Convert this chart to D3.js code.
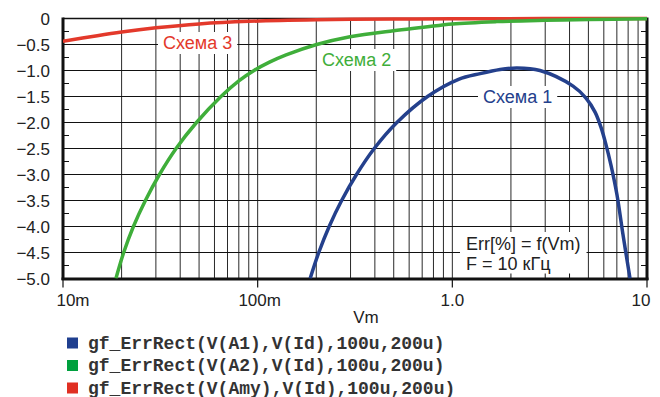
<!DOCTYPE html>
<html>
<head>
<meta charset="utf-8">
<script src="https://cdn.jsdelivr.net/npm/d3@7"></script>
<style>
  body { margin: 0; background: #fff; }
  svg { display: block; font-family: "Liberation Sans", Arial, sans-serif; }
</style>
</head>
<body>
<svg id="chart" width="660" height="397"></svg>
<script>
// Data (Vm in volts, error in %)
const vm1 = [0.186, 0.206, 0.233, 0.270, 0.322, 0.397, 0.519, 0.746, 1.076, 1.39, 1.76, 2.15, 2.82, 4.17, 4.86, 5.41, 5.80, 6.16, 6.53, 7.01, 7.53, 8.18];
const err1 = [-5.0, -4.5, -4.0, -3.5, -3.0, -2.5, -2.0, -1.5, -1.17, -1.06, -0.98, -0.95, -1.0, -1.3, -1.53, -1.8, -2.09, -2.43, -2.82, -3.39, -4.16, -5.0];

const vm2 = [0.0187, 0.0205, 0.0230, 0.0265, 0.0313, 0.0381, 0.0485, 0.0648, 0.080, 0.0958, 0.115, 0.14, 0.201, 0.298, 0.498, 0.71, 1.0, 1.69, 3.0, 5.0, 10];
const err2 = [-5.0, -4.5, -4.0, -3.5, -3.0, -2.5, -2.0, -1.5, -1.2, -1.0, -0.84, -0.7, -0.5, -0.35, -0.235, -0.17, -0.105, -0.06, -0.035, -0.02, -0.005];

const vm3 = [0.01, 0.015, 0.02, 0.03, 0.05, 0.09, 0.2, 0.5, 1, 10];
const err3 = [-0.44, -0.33, -0.26, -0.18, -0.105, -0.055, -0.025, -0.01, -0.005, 0];

const xTicks = [0.01, 0.1, 1, 10];
const xTickLabels = ['10m', '100m', '1.0', '10'];
const yTicks = [0, -0.5, -1, -1.5, -2, -2.5, -3, -3.5, -4, -4.5, -5];
const yTickLabels = ['0', '\u22120.5', '\u22121.0', '\u22121.5', '\u22122.0', '\u22122.5', '\u22123.0', '\u22123.5', '\u22124.0', '\u22124.5', '\u22125.0'];

const curveNames = ['Схема 1', 'Схема 2', 'Схема 3'];
const legendNames = [
  'gf_ErrRect(V(A1),V(Id),100u,200u)',
  'gf_ErrRect(V(A2),V(Id),100u,200u)',
  'gf_ErrRect(V(Amy),V(Id),100u,200u)'
];
const curveColors = ['#24408c', '#3fae3a', '#e3392b'];
const legendColors = ['#1f3f8f', '#00a03e', '#e02f22'];

const svg = d3.select('#chart');
const pLeft = 63, pRight = 647, pTop = 18.5, pBottom = 278.5;

const x = d3.scaleLog().domain([0.01, 10]).range([pLeft, pRight]);
const y = d3.scaleLinear().domain([-5, 0]).range([pBottom, pTop]);

svg.append('defs').append('clipPath').attr('id', 'plot')
  .append('rect').attr('x', pLeft).attr('y', pTop - 3).attr('width', pRight - pLeft).attr('height', pBottom - pTop + 3);

const grid = svg.append('g');

// vertical grid: every 1..9 of each decade
const minorX = [];
[0.01, 0.1, 1].forEach(d => { for (let k = 2; k <= 10; k++) minorX.push(d * k); });
const vGrid = minorX.filter(v => v < 9.99);
grid.selectAll('line.vx').data(vGrid).enter().append('line')
  .attr('x1', d => x(d)).attr('x2', d => x(d))
  .attr('y1', pTop).attr('y2', pBottom)
  .attr('stroke', '#2a2a2a').attr('stroke-width', 1);

// horizontal grid
grid.selectAll('line.hy').data(yTicks.filter(v => v < 0 && v > -5)).enter().append('line')
  .attr('x1', pLeft).attr('x2', pRight)
  .attr('y1', d => y(d)).attr('y2', d => y(d))
  .attr('stroke', '#111').attr('stroke-width', 1);

// minor ticks on y (left and right, inward)
const minorY = d3.range(-4.75, 0, 0.5);
grid.selectAll('line.myl').data(minorY).enter().append('line')
  .attr('x1', pLeft).attr('x2', pLeft + 6).attr('y1', d => y(d)).attr('y2', d => y(d))
  .attr('stroke', '#111');
grid.selectAll('line.myr').data(minorY).enter().append('line')
  .attr('x1', pRight - 6).attr('x2', pRight).attr('y1', d => y(d)).attr('y2', d => y(d))
  .attr('stroke', '#111');

// white box behind the annotation
const note = svg.append('g');
const noteText = note.append('text').attr('x', 466).attr('y', 250)
  .attr('font-size', 18).attr('fill', '#222');
noteText.append('tspan').attr('x', 466).text('Err[%] = f(Vm)');
noteText.append('tspan').attr('x', 466).attr('dy', 20).text('F = 10 кГц');
const nb = noteText.node().getBBox();
note.insert('rect', 'text').attr('x', nb.x - 6).attr('y', nb.y - 2)
  .attr('width', nb.width + 12).attr('height', pBottom - nb.y + 2).attr('fill', '#fff');
// minor ticks inside the box stay visible
note.selectAll('line').data(vGrid.filter(v => x(v) > nb.x - 6 && x(v) < nb.x + nb.width + 6)).enter().append('line')
  .attr('x1', d => x(d)).attr('x2', d => x(d)).attr('y1', pBottom).attr('y2', pBottom - 5)
  .attr('stroke', '#111');

// curve labels with white backing
const labelPos = [[483, 103], [322, 66], [163, 49]];
const labels = svg.append('g');
curveNames.forEach((name, i) => {
  const t = labels.append('text').attr('x', labelPos[i][0]).attr('y', labelPos[i][1])
    .attr('font-size', 18).attr('fill', curveColors[i]).text(name);
  const b = t.node().getBBox();
  labels.insert('rect', 'text').attr('x', b.x - 5).attr('y', b.y - 1)
    .attr('width', b.width + 10).attr('height', b.height + 2).attr('fill', '#fff');
});

// axes frame
svg.append('line').attr('x1', pLeft).attr('x2', pRight).attr('y1', pTop).attr('y2', pTop)
  .attr('stroke', '#111').attr('stroke-width', 1.5);
svg.append('line').attr('x1', pLeft).attr('x2', pLeft).attr('y1', pTop - 1).attr('y2', pBottom + 1.5)
  .attr('stroke', '#111').attr('stroke-width', 3);
svg.append('line').attr('x1', pRight).attr('x2', pRight).attr('y1', pTop - 1).attr('y2', pBottom + 1.5)
  .attr('stroke', '#111').attr('stroke-width', 3);
svg.append('line').attr('x1', pLeft - 1.5).attr('x2', pRight + 1.5).attr('y1', pBottom + 0.5).attr('y2', pBottom + 0.5)
  .attr('stroke', '#111').attr('stroke-width', 3);

// curves
const line = d3.line().x(d => x(d[0])).y(d => y(d[1])).curve(d3.curveCatmullRom.alpha(0.5));
const series = [[vm1, err1], [vm2, err2], [vm3, err3]];
const curves = svg.append('g').attr('clip-path', 'url(#plot)');
// draw in order red, green, blue
[2, 1, 0].forEach(i => {
  const pts = series[i][0].map((v, j) => [v, series[i][1][j]]);
  curves.append('path').datum(pts).attr('d', line)
    .attr('fill', 'none').attr('stroke', curveColors[i]).attr('stroke-width', 3.5);
});

// x axis ticks and labels
const xa = svg.append('g');
xa.selectAll('line').data(xTicks).enter().append('line')
  .attr('x1', d => x(d)).attr('x2', d => x(d)).attr('y1', pBottom + 1).attr('y2', pBottom + 9)
  .attr('stroke', '#111').attr('stroke-width', 1.2);
const xOffset = [10, 2, 0, -6];
xa.selectAll('text').data(xTicks).enter().append('text')
  .attr('x', (d, i) => x(d) + xOffset[i]).attr('y', 306)
  .attr('text-anchor', 'middle').attr('font-size', 17).attr('fill', '#222')
  .text((d, i) => xTickLabels[i]);
svg.append('text').attr('x', 366).attr('y', 323).attr('text-anchor', 'middle')
  .attr('font-size', 17).attr('fill', '#222').text('Vm');

// y axis labels
const ya = svg.append('g');
ya.selectAll('text').data(yTicks).enter().append('text')
  .attr('x', 50).attr('y', d => y(d) + 6)
  .attr('text-anchor', 'end').attr('font-size', 17).attr('fill', '#222')
  .text((d, i) => yTickLabels[i]);

// legend
const lg = svg.append('g');
legendNames.forEach((name, i) => {
  const cy = 343 + i * 22.5;
  lg.append('rect').attr('x', 67).attr('y', cy - 5.5).attr('width', 11).attr('height', 11)
    .attr('fill', legendColors[i]);
  lg.append('text').attr('x', 88).attr('y', cy + 5.5)
    .attr('font-family', '"Liberation Mono", "Courier New", monospace')
    .attr('font-weight', 'bold').attr('font-size', 18).attr('fill', '#333').text(name);
});
</script>
</body>
</html>
